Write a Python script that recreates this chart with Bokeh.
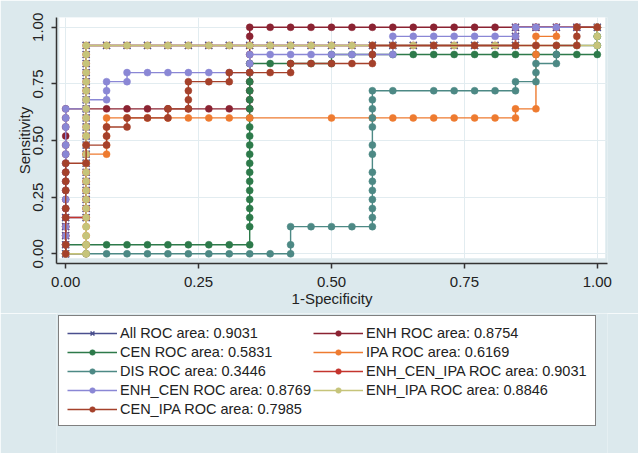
from bokeh.plotting import figure
from bokeh.layouts import column
from bokeh.models import (Legend, LegendItem, FixedTicker, NumeralTickFormatter,
                          BoxAnnotation, ColumnDataSource, Range1d)
from bokeh.embed import file_html
from bokeh.resources import INLINE

# ---------------- data (ROC points as counts: false positives / true positives) ----------
N_NEG = 26
N_POS = 25

ALL_PTS = [(0,0),(0,1),(0,2),(0,3),(0,4),(1,4),(1,5),(1,6),(1,7),(1,8),(1,9),(1,10),(1,11),(1,12),
           (1,13),(1,14),(1,15),(1,16),(1,17),(1,18),(1,19),(1,20),(1,21),(1,22),(1,23),(2,23),(3,23),
           (4,23),(5,23),(6,23),(7,23),(8,23),(9,23),(10,23),(11,23),(12,23),(13,23),(14,23),(15,23),
           (16,23),(17,23),(18,23),(19,23),(20,23),(21,23),(22,23),(22,24),(22,25),(23,25),(24,25),
           (25,25),(26,25)]

ENH_PTS = [(0,0),(0,1),(0,2),(0,3),(0,4),(0,5),(0,6),(0,7),(0,8),(0,9),(0,10),(0,11),(0,12),(0,13),
           (0,14),(0,15),(0,16),(1,16),(2,16),(3,16),(4,16),(5,16),(6,16),(7,16),(8,16),(9,16),(9,17),
           (9,18),(9,19),(9,20),(9,21),(9,22),(9,23),(9,24),(9,25),(10,25),(11,25),(12,25),(13,25),
           (14,25),(15,25),(16,25),(17,25),(18,25),(19,25),(20,25),(21,25),(22,25),(23,25),(24,25),
           (25,25),(26,25)]

CEN_PTS = [(0,0),(0,1),(1,1),(2,1),(3,1),(4,1),(5,1),(6,1),(7,1),(8,1),(9,1),(9,3),(9,4),(9,5),(9,6),
           (9,7),(9,8),(9,9),(9,10),(9,11),(9,12),(9,13),(9,14),(9,15),(9,16),(9,17),(9,18),(9,19),
           (9,20),(9,21),(10,21),(11,21),(12,21),(13,21),(13,22),(14,22),(15,22),(16,22),(17,22),
           (18,22),(19,22),(20,22),(21,22),(22,22),(23,22),(24,22),(25,22),(26,22),(26,23),(26,24),
           (26,25)]

IPA_PTS = [(0,0),(1,0),(1,1),(1,2),(1,3),(1,4),(1,5),(1,6),(1,7),(1,8),(1,9),(1,10),(1,11),(2,11),
           (2,12),(2,13),(2,14),(2,15),(3,15),(4,15),(5,15),(6,15),(7,15),(8,15),(9,15),(13,15),
           (15,15),(16,15),(17,15),(18,15),(19,15),(20,15),(21,15),(22,15),(22,16),(23,16),(23,22),
           (23,23),(23,24),(24,24),(24,25),(25,25),(26,25)]

DIS_PTS = [(0,0),(1,0),(2,0),(3,0),(4,0),(5,0),(6,0),(7,0),(8,0),(9,0),(10,0),(11,0),(11,1),(11,3),
           (12,3),(13,3),(14,3),(15,3),(15,4),(15,5),(15,6),(15,7),(15,8),(15,9),(15,11),(15,12),
           (15,14),(15,15),(15,16),(15,17),(15,18),(16,18),(18,18),(19,18),(20,18),(21,18),(22,18),
           (22,19),(23,19),(23,20),(23,21),(24,21),(24,22),(24,23),(25,23),(26,23),(26,24),(26,25)]

ENH_CEN_IPA_PTS = [(0,0),(0,1),(0,2),(0,3),(0,4),(1,4),(1,5),(1,6),(1,7),(1,8),(1,9),(1,10),(1,11),
                   (1,12),(1,13),(1,14),(1,15),(1,16),(1,17),(1,18),(1,19),(1,20),(1,21),(1,22),(1,23),
                   (2,23),(3,23),(4,23),(5,23),(6,23),(7,23),(8,23),(9,23),(10,23),(11,23),(12,23),
                   (13,23),(14,23),(15,23),(16,23),(17,23),(18,23),(19,23),(20,23),(21,23),(22,23),
                   (22,24),(22,25),(23,25),(24,25),(25,25),(26,25)]

ENH_CEN_PTS = [(0,0),(0,1),(0,2),(0,3),(0,4),(0,5),(0,6),(0,7),(0,8),(0,9),(0,10),(0,11),(0,12),
               (0,14),(0,15),(0,16),(1,16),(1,17),(2,17),(2,18),(2,19),(3,19),(3,20),(4,20),(5,20),
               (6,20),(7,20),(8,20),(9,20),(9,21),(9,22),(10,22),(11,22),(12,22),(13,22),(14,22),
               (15,22),(16,22),(16,23),(16,24),(17,24),(18,24),(19,24),(20,24),(21,24),(22,24),
               (22,25),(23,25),(24,25),(25,25),(26,25)]

ENH_IPA_PTS = [(0,0),(1,0),(1,1),(1,2),(1,3),(1,4),(1,5),(1,6),(1,7),(1,8),(1,9),(1,10),(1,11),(1,12),
               (1,13),(1,14),(1,15),(1,16),(1,17),(1,18),(1,19),(1,20),(1,21),(1,22),(1,23),(2,23),
               (3,23),(4,23),(5,23),(6,23),(7,23),(8,23),(9,23),(10,23),(11,23),(12,23),(13,23),
               (14,23),(15,23),(16,23),(17,23),(18,23),(19,23),(20,23),(21,23),(22,23),(23,23),
               (24,23),(25,23),(26,23),(26,24),(26,25)]

CEN_IPA_PTS = [(0,0),(0,1),(0,4),(0,5),(0,7),(0,8),(0,9),(0,10),(1,10),(1,12),(2,12),(2,13),(2,14),
               (3,14),(3,15),(4,15),(5,15),(5,16),(6,16),(6,17),(6,18),(6,19),(7,19),(8,19),(8,20),
               (9,20),(10,20),(11,20),(11,21),(12,21),(13,21),(14,21),(15,21),(15,22),(15,23),(16,23),
               (18,23),(20,23),(22,23),(23,23),(24,23),(25,23),(25,24),(25,25),(26,25)]

SERIES = ["All", "ENH", "CEN", "IPA", "DIS", "ENH_CEN_IPA", "ENH_CEN", "ENH_IPA", "CEN_IPA"]
AREAS = ["0.9031", "0.8754", "0.5831", "0.6169", "0.3446", "0.9031", "0.8769", "0.8846", "0.7985"]
POINTS = [ALL_PTS, ENH_PTS, CEN_PTS, IPA_PTS, DIS_PTS, ENH_CEN_IPA_PTS, ENH_CEN_PTS,
          ENH_IPA_PTS, CEN_IPA_PTS]

X_TICKS = [0, 0.25, 0.5, 0.75, 1]
Y_TICKS = [0, 0.25, 0.5, 0.75, 1]

# ---------------- styles ----------------
COLORS = ["#4a4f8e", "#8b2332", "#2d7a4a", "#ee7b30", "#4d8985", "#c4342d", "#8a87d5",
          "#c6c47a", "#a5412b"]
MARKERS = ["x", "circle", "circle", "circle", "circle", "circle", "circle", "circle", "circle"]
BG = "#dce9ed"
FONT = "Liberation Sans"


def draw(fig, src, col, mk):
    ln = fig.line("x", "y", source=src, line_color=col, line_width=1.4)
    if mk == "x":
        sc = fig.scatter("x", "y", source=src, marker="x", size=10, line_color=col, line_width=1.6)
    else:
        sc = fig.scatter("x", "y", source=src, marker="circle", size=7, fill_color=col,
                         line_color=col, line_width=0.5)
    return ln, sc


# ---------------- main plot ----------------
p = figure(width=638, height=313, output_backend="svg", toolbar_location=None,
           x_range=Range1d(-0.0173, 1.0192), y_range=Range1d(-0.0428, 1.0433),
           min_border_left=55, min_border_right=31, min_border_top=17, min_border_bottom=50)
p.background_fill_color = BG
p.border_fill_color = BG
p.outline_line_color = None

p.add_layout(BoxAnnotation(left=-0.012, right=1.015, bottom=-0.02, top=1.06,
                           fill_color="white", fill_alpha=1, line_color=None, level="image"))

sources = []
for pts, col, mk in zip(POINTS, COLORS, MARKERS):
    src = ColumnDataSource(dict(x=[a / N_NEG for a, b in pts], y=[b / N_POS for a, b in pts]))
    sources.append(src)
    draw(p, src, col, mk)

for ax in (p.xaxis[0], p.yaxis[0]):
    ax.axis_line_color = "#333333"
    ax.axis_line_width = 1.5
    ax.major_tick_line_color = "#333333"
    ax.major_tick_line_width = 1.5
    ax.major_tick_out = 5
    ax.major_tick_in = 0
    ax.minor_tick_line_color = None
    ax.major_label_text_font = FONT
    ax.major_label_text_font_size = "15px"
    ax.major_label_text_color = "#222222"
    ax.axis_label_text_font = FONT
    ax.axis_label_text_font_size = "15px"
    ax.axis_label_text_font_style = "normal"
    ax.axis_label_text_color = "#222222"
    ax.formatter = NumeralTickFormatter(format="0.00")

p.xaxis[0].ticker = FixedTicker(ticks=X_TICKS)
p.yaxis[0].ticker = FixedTicker(ticks=Y_TICKS)
p.xaxis[0].axis_label = "1-Specificity"
p.yaxis[0].axis_label = "Sensitivity"
p.xaxis[0].major_label_standoff = 8
p.xaxis[0].axis_label_standoff = 0
p.yaxis[0].major_label_orientation = "vertical"
p.yaxis[0].major_label_standoff = 8
p.yaxis[0].axis_label_standoff = -2

p.xgrid.ticker = FixedTicker(ticks=X_TICKS)
p.ygrid.ticker = FixedTicker(ticks=Y_TICKS)
p.grid.grid_line_color = "#e2ecf0"
p.grid.grid_line_width = 1

# ---------------- legend panel (same series, ranges chosen so nothing is drawn in it) -------
q = figure(width=638, height=140, output_backend="svg", toolbar_location=None,
           x_axis_type=None, y_axis_type=None, x_range=Range1d(10, 11), y_range=Range1d(10, 11),
           min_border_left=56, min_border_right=0, min_border_top=0, min_border_bottom=0)
q.background_fill_color = BG
q.border_fill_color = BG
q.outline_line_color = None
q.grid.visible = False

items = {}
for name, area, src, col, mk in zip(SERIES, AREAS, sources, COLORS, MARKERS):
    ln, sc = draw(q, src, col, mk)
    items[name] = LegendItem(label=f"{name} ROC area: {area}", renderers=[ln, sc])

order = ["All", "CEN", "DIS", "ENH_CEN", "CEN_IPA", "ENH", "IPA", "ENH_CEN_IPA", "ENH_IPA"]
legend = Legend(items=[items[k] for k in order], orientation="vertical", ncols=2,
                location="top_left", glyph_width=50, glyph_height=14, label_standoff=3,
                padding=8, spacing=2, margin=2, border_line_color="black",
                border_line_width=1, background_fill_color="white", background_fill_alpha=1,
                label_text_font=FONT, label_text_font_size="14.5px", label_text_color="#222222",
                label_height=17)
q.add_layout(legend)

open("out.html", "w").write(file_html(column(p, q, spacing=0), INLINE))
